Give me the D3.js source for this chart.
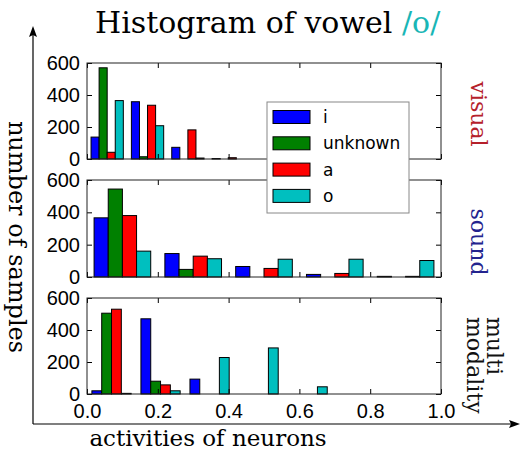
<!DOCTYPE html>
<html><head><meta charset="utf-8">
<script src="https://cdn.jsdelivr.net/npm/d3@7"></script>
<style>
html,body{margin:0;padding:0;background:#fff;}
svg{display:block;}
</style>
</head><body>
<script>
// ---- data ----
const seriesNames = ["i", "unknown", "a", "o"];
const seriesColors = ["#0000ff", "#008000", "#ff0000", "#00bfbf"];
const panelNames = ["visual", "sound", "multi modality"];
const panelLabelColors = ["#b5202a", "#23238e", "#111111"];
// bin width (activity units) of each panel's histogram, 5 bins from 0
const visualBinWidth = 0.114;
const soundBinWidth = 0.2;
const multiBinWidth = 0.1385;
// counts per bin, one array per series (i, unknown, a, o)
const visualCounts = [
  [137, 358, 73, 3, 0],
  [570, 14, 0, 0, 0],
  [42, 336, 182, 8, 0],
  [365, 208, 6, 0, 0]
];
const soundCounts = [
  [366, 145, 65, 16, 4],
  [544, 47, 0, 0, 0],
  [380, 129, 53, 22, 4],
  [160, 113, 110, 110, 102]
];
const multiCounts = [
  [20, 470, 93, 0, 0],
  [505, 80, 0, 0, 0],
  [530, 57, 0, 0, 0],
  [4, 20, 228, 288, 45]
];
const yTicks = [0, 200, 400, 600];
const xTicks = [0, 0.2, 0.4, 0.6, 0.8, 1.0];
const titleMain = "Histogram of vowel ";
const titleVowel = "/o/";
const xLabel = "activities of neurons";
const yLabel = "number of samples";

// ---- layout ----
const W = 521, H = 455;
const svg = d3.select("body").append("svg").attr("width", W).attr("height", H);
const left = 87, right = 441;
const panelTops = [63, 180, 298];
const panelBottoms = [159, 277, 394];
const x = d3.scaleLinear().domain([0, 1]).range([left, right]);

const panels = [
  {counts: visualCounts, bw: visualBinWidth},
  {counts: soundCounts, bw: soundBinWidth},
  {counts: multiCounts, bw: multiBinWidth}
];

const sans = "'DejaVu Sans', sans-serif";
const serif = "'DejaVu Serif', serif";

panels.forEach((p, pi) => {
  const y = d3.scaleLinear().domain([0, 600]).range([panelBottoms[pi], panelTops[pi]]);
  const g = svg.append("g");
  const nS = p.counts.length;
  // bars
  p.counts.forEach((arr, si) => {
    arr.forEach((v, bi) => {
      if (v <= 0) return;
      const b0 = bi * p.bw;
      const x0 = b0 + p.bw * 0.1 + si * (p.bw * 0.8 / nS);
      const x1 = x0 + p.bw * 0.8 / nS;
      g.append("rect")
        .attr("x", x(x0)).attr("width", x(x1) - x(x0))
        .attr("y", y(v)).attr("height", y(0) - y(v))
        .attr("fill", seriesColors[si]).attr("stroke", "#000").attr("stroke-width", 1);
    });
  });
  // axes (ticks inward)
  const ax = svg.append("g").attr("font-family", sans);
  const la = ax.append("g").attr("transform", `translate(${left},0)`)
    .call(d3.axisLeft(y).tickValues(yTicks).tickSize(-5).tickPadding(7).tickFormat(d3.format("d")));
  la.selectAll("text").attr("font-size", 20).attr("fill", "#000");
  ax.append("g").attr("transform", `translate(${right},0)`)
    .call(d3.axisRight(y).tickValues(yTicks).tickSize(-5).tickFormat(""));
  ax.append("g").attr("transform", `translate(0,${panelTops[pi]})`)
    .call(d3.axisTop(x).tickValues(xTicks).tickSize(-5).tickFormat(""));
  const ba = ax.append("g").attr("transform", `translate(0,${panelBottoms[pi]})`)
    .call(d3.axisBottom(x).tickValues(xTicks).tickSize(-5).tickPadding(10)
      .tickFormat(pi === 2 ? d3.format(".1f") : ""));
  ba.selectAll("text").attr("font-size", 20).attr("fill", "#000");
  ax.selectAll(".domain").remove();
  ax.selectAll(".tick line").attr("stroke", "#000");
  // frame
  svg.append("rect").attr("x", left).attr("y", panelTops[pi])
    .attr("width", right - left).attr("height", panelBottoms[pi] - panelTops[pi])
    .attr("fill", "none").attr("stroke", "#222").attr("stroke-width", 1);
});

// panel labels at right
svg.append("text").attr("transform", "translate(478,114) rotate(90)")
  .attr("text-anchor", "middle").attr("dominant-baseline", "central")
  .attr("font-family", serif).attr("font-size", 22).attr("fill", panelLabelColors[0]).text(panelNames[0]);
svg.append("text").attr("transform", "translate(478,242) rotate(90)")
  .attr("text-anchor", "middle").attr("dominant-baseline", "central")
  .attr("font-family", serif).attr("font-size", 22).attr("fill", panelLabelColors[1]).text(panelNames[1]);
const mm = panelNames[2].split(" ");
svg.append("text").attr("transform", "translate(487,317) rotate(90)")
  .attr("text-anchor", "start")
  .attr("font-family", serif).attr("font-size", 22).attr("fill", panelLabelColors[2]).text(mm[0]);
svg.append("text").attr("transform", "translate(467,317) rotate(90)")
  .attr("text-anchor", "start")
  .attr("font-family", serif).attr("font-size", 22).attr("fill", panelLabelColors[2]).text(mm[1]);

// legend
const lg = svg.append("g").attr("font-family", sans);
lg.append("rect").attr("x", 267).attr("y", 102).attr("width", 142).attr("height", 111)
  .attr("fill", "#fff").attr("stroke", "#888").attr("stroke-width", 1);
seriesNames.forEach((n, i) => {
  const cy = 117 + i * 26.3;
  lg.append("rect").attr("x", 273).attr("y", cy - 6.5).attr("width", 37).attr("height", 13)
    .attr("fill", seriesColors[i]).attr("stroke", "#000").attr("stroke-width", 1);
  lg.append("text").attr("x", 323).attr("y", cy).attr("dominant-baseline", "central")
    .attr("font-size", 17).attr("fill", "#000").text(n);
});

// outer arrows
svg.append("line").attr("x1", 33).attr("y1", 424).attr("x2", 33).attr("y2", 32)
  .attr("stroke", "#000").attr("stroke-width", 1.2);
svg.append("path").attr("d", "M33,26 L29,37 L33,35 L37,37 Z").attr("fill", "#000");
svg.append("line").attr("x1", 33).attr("y1", 424).attr("x2", 514).attr("y2", 424)
  .attr("stroke", "#000").attr("stroke-width", 1.2);
svg.append("path").attr("d", "M520,424 L509,420 L511,424 L509,428 Z").attr("fill", "#000");

// axis labels
svg.append("text").attr("x", 208).attr("y", 446).attr("text-anchor", "middle")
  .attr("font-family", serif).attr("font-size", 23).attr("fill", "#000").text(xLabel);
svg.append("text").attr("transform", "translate(17,237) rotate(90)")
  .attr("text-anchor", "middle").attr("dominant-baseline", "central")
  .attr("font-family", serif).attr("font-size", 24).attr("fill", "#000").text(yLabel);

// title
const t = svg.append("text").attr("x", 95).attr("y", 33)
  .attr("font-family", serif).attr("font-size", 30).attr("fill", "#000");
t.append("tspan").text(titleMain);
t.append("tspan").attr("fill", "#19b6b6").text(titleVowel);
</script>
</body></html>
